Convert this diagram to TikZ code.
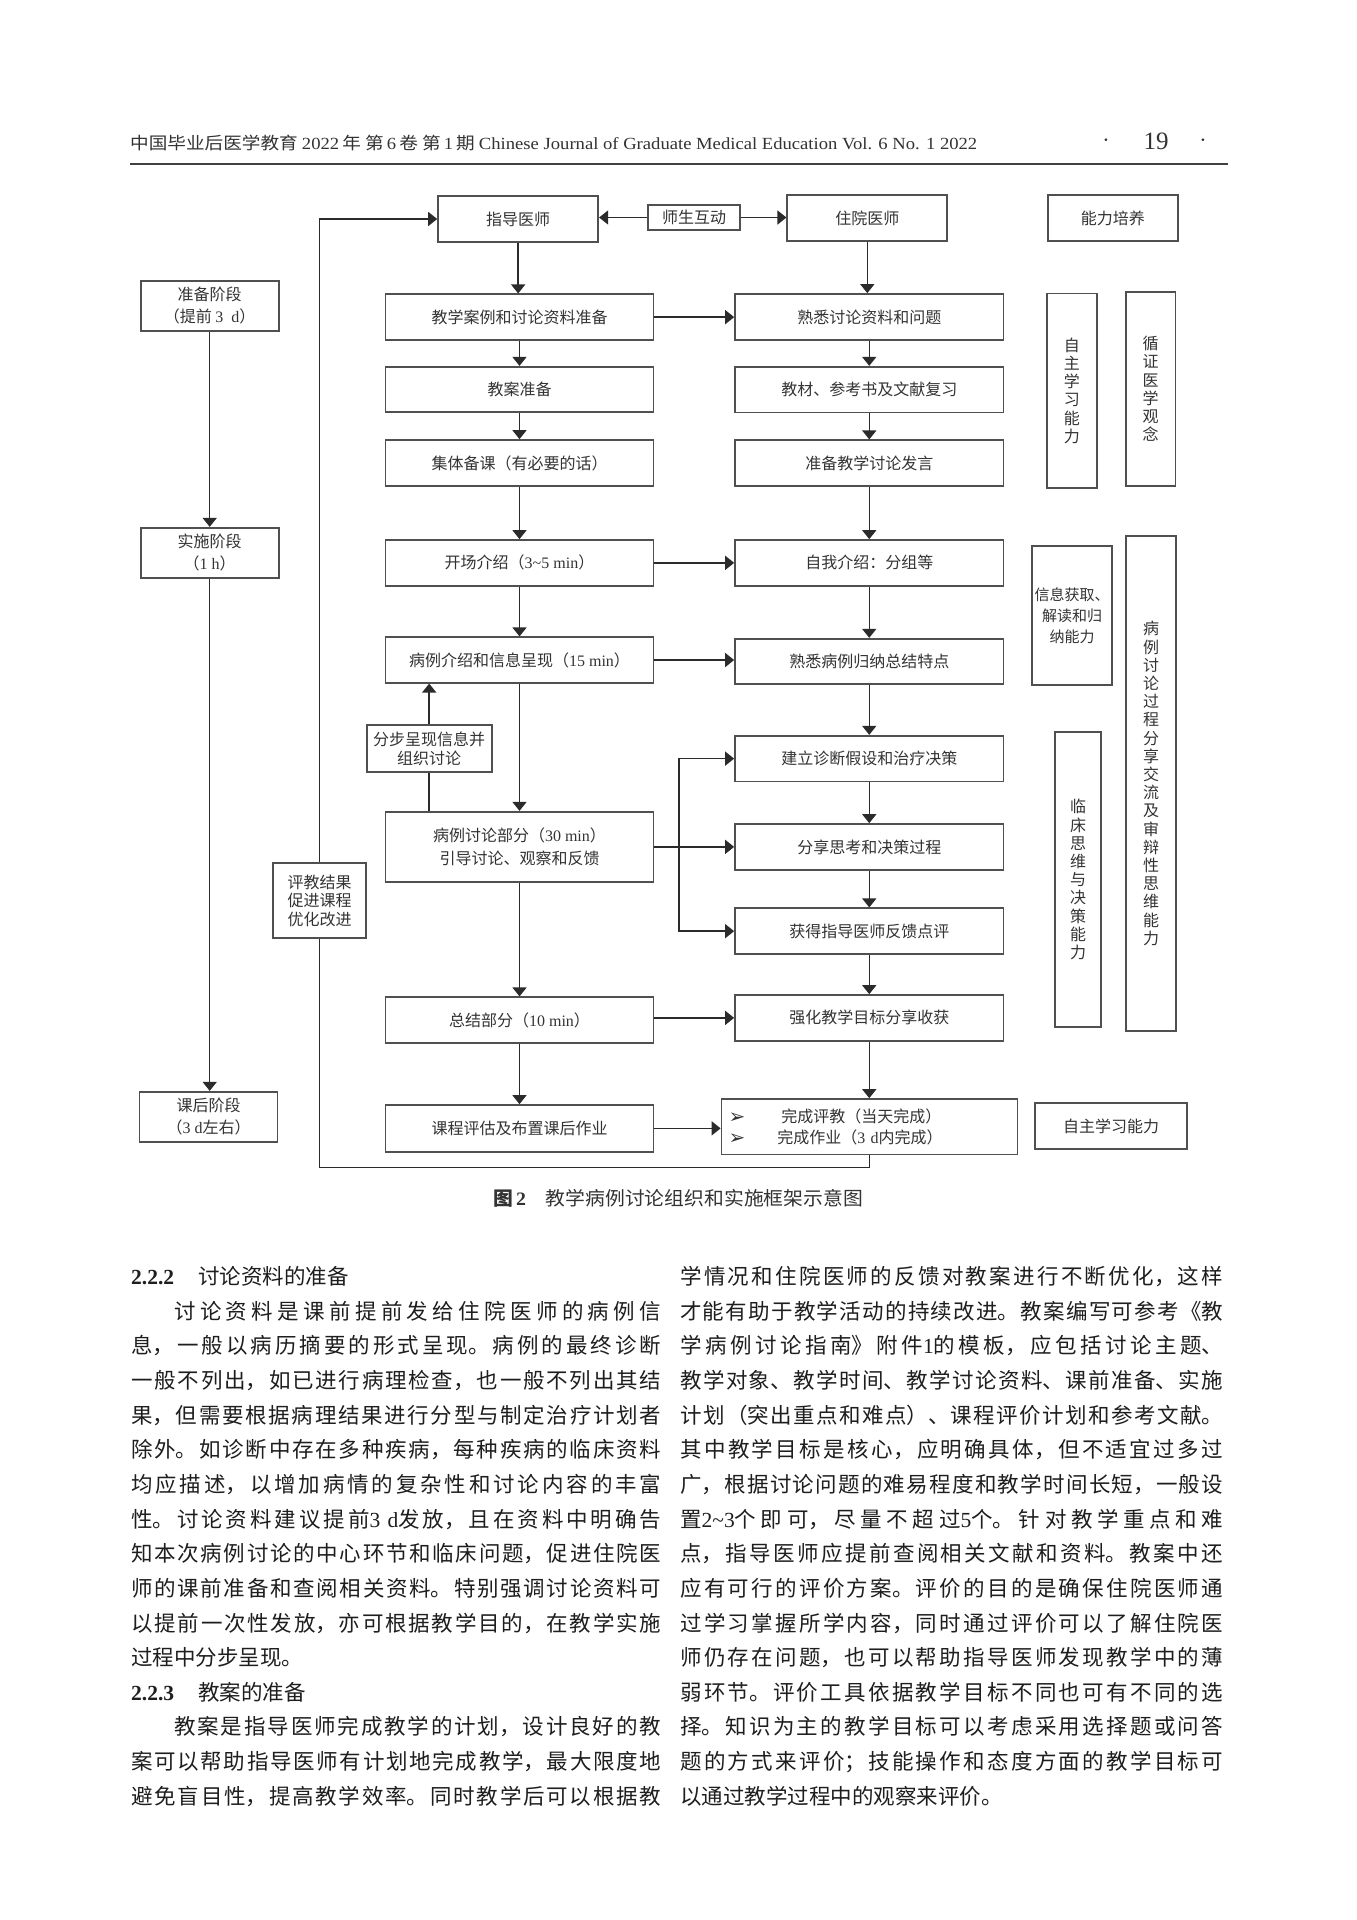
\documentclass[tikz,border=0pt]{standalone}
\usepackage{fontspec}
\usepackage{graphicx}
\setmainfont{Noto Sans CJK SC}
\newfontfamily\lat{Liberation Serif}
\newfontfamily\dv{DejaVu Sans}
\XeTeXlinebreaklocale "zh"
\XeTeXlinebreakskip=0pt plus 4pt
\usetikzlibrary{arrows.meta}
\definecolor{bcol}{HTML}{505050}
\definecolor{lcol}{HTML}{2B2B2B}
\definecolor{tcol}{HTML}{333333}
\definecolor{body}{HTML}{1E1E1E}
\tikzset{
 box/.style={draw=bcol, line width=1.7pt, inner sep=0pt, align=center, text=tcol, font=\fontsize{16}{21.5}\selectfont},
 vbox/.style={box, font=\fontsize{16}{18.2}\selectfont},
 conn/.style={draw=lcol, line width=1.5pt},
 arr/.style={conn, -{Triangle[width=14pt,length=9pt]}},
}
\newcommand{\mkbox}[7][]{\node[box,#1,minimum width={#5-#3},minimum height={#6-#4}] (#2) at ({(#3+#5)/2},{(#4+#6)/2}) {#7};}
\newcommand{\bul}{{\dv\fontsize{20}{20}\selectfont\raisebox{-1pt}{➢}}}
\begin{document}
\begin{tikzpicture}[x=1pt,y=-1pt]
\fill[white] (0,0) rectangle (1357,1920);
\useasboundingbox (0,0) rectangle (1357,1920);

% header
\node[anchor=west, inner sep=0pt, text=tcol] (hdr) at (130,143) {\resizebox{847pt}{\height}{\fontsize{17}{17}\selectfont 中国毕业后医学教育\ {\lat 2022}\,年\ 第\,{\lat 6}\,卷\ 第\,{\lat 1}\,期\ {\lat Chinese Journal of Graduate Medical Education Vol. 6 No. 1 2022}}};
\node[inner sep=0pt, text=tcol] (dotL) at (1106,143) {\lat\fontsize{22}{22}\selectfont ·};
\node[inner sep=0pt, text=tcol] (pgno) at (1156,141) {\lat\fontsize{25}{25}\selectfont 19};
\node[inner sep=0pt, text=tcol] (dotR) at (1203,143) {\lat\fontsize{22}{22}\selectfont ·};
\draw[line width=1.2pt, black!75] (130,164) -- (1228,164);

% phase column
\mkbox{P1}{140.7}{280.7}{278.7}{330.7}{准备阶段\\（提前 {\lat 3\ \ d}）}
\mkbox{P2}{140.7}{527.7}{278.7}{577.7}{实施阶段\\（{\lat 1 h}）}
\mkbox{P3}{139.5}{1091.7}{277.5}{1141.7}{课后阶段\\（{\lat 3 d}左右）}
\draw[arr] (P1.south) -- (P1.south |- P2.north);
\draw[arr] (P2.south) -- (P2.south |- P3.north);

% teacher column
\mkbox{T0}{438}{196}{598.3}{242}{指导医师}
\mkbox{T1}{385.5}{294.3}{653.5}{340}{教学案例和讨论资料准备}
\mkbox{T2}{385.5}{366.7}{653.5}{412.3}{教案准备}
\mkbox{T3}{385.5}{440}{653.5}{486}{集体备课（有必要的话）}
\mkbox{T4}{385.5}{540}{653.5}{585.7}{开场介绍（{\lat 3\textasciitilde 5 min}）}
\mkbox{T5}{385.5}{637.3}{653.5}{682.7}{病例介绍和信息呈现（{\lat 15 min}）}
\mkbox[font=\fontsize{16}{19}\selectfont]{S}{366.7}{725}{491.7}{771.7}{分步呈现信息并\\组织讨论}
\mkbox[font=\fontsize{16}{23}\selectfont]{T6}{385.5}{811.7}{653.5}{882}{病例讨论部分（{\lat 30 min}）\\引导讨论、观察和反馈}
\mkbox{T7}{385.5}{997.3}{653.5}{1043.3}{总结部分（{\lat 10 min}）}
\mkbox{T8}{385.5}{1105}{653.5}{1151.7}{课程评估及布置课后作业}
\mkbox[font=\fontsize{16}{18.5}\selectfont]{F}{273.3}{863.3}{365.7}{938.3}{评教结果\\促进课程\\优化改进}

% interaction
\mkbox{K}{647.7}{205}{740.3}{230}{师生互动}

% resident column
\mkbox{R0}{787.3}{195}{947.3}{241}{住院医师}
\mkbox{R1}{735}{294}{1003.5}{340}{熟悉讨论资料和问题}
\mkbox{R2}{735}{366.7}{1003.5}{412.5}{教材、参考书及文献复习}
\mkbox{R3}{735}{440.3}{1003.5}{486.3}{准备教学讨论发言}
\mkbox{R4}{735}{540}{1003.5}{585.7}{自我介绍：分组等}
\mkbox{R5}{735}{638.7}{1003.5}{683.7}{熟悉病例归纳总结特点}
\mkbox{R6}{735}{735.7}{1003.5}{781.5}{建立诊断假设和治疗决策}
\mkbox{R7}{735}{824}{1003.5}{870}{分享思考和决策过程}
\mkbox{R8}{735}{908.3}{1003.5}{954}{获得指导医师反馈点评}
\mkbox{R9}{735}{995}{1003.5}{1040.7}{强化教学目标分享收获}
\node[box, minimum width=296, minimum height=55.3, text width=282pt, align=left, font=\fontsize{16}{21}\selectfont] (R10) at (869.5,1126.7) {\bul\hspace{36pt}完成评教（当天完成）\\\bul\hspace{32pt}完成作业（{\lat 3 d}内完成）};

% abilities
\mkbox{A0}{1047.7}{195.3}{1178}{241.3}{能力培养}
\mkbox[vbox]{A1}{1047}{293.5}{1096.7}{488}{自\\主\\学\\习\\能\\力}
\mkbox[vbox]{A2}{1125.7}{291.7}{1175.5}{486}{循\\证\\医\\学\\观\\念}
\mkbox[font=\fontsize{15}{21}\selectfont]{A3}{1031.7}{546}{1112.3}{685}{信息获取、\\解读和归\\纳能力}
\mkbox[vbox]{A4}{1126.3}{536}{1176}{1031}{病\\例\\讨\\论\\过\\程\\分\\享\\交\\流\\及\\审\\辩\\性\\思\\维\\能\\力}
\mkbox[vbox]{A5}{1055.3}{732.3}{1101}{1027}{临\\床\\思\\维\\与\\决\\策\\能\\力}
\mkbox{A6}{1035}{1103.3}{1187}{1149.3}{自主学习能力}

% connectors teacher column
\draw[arr] (T0.south) -- (T0.south |- T1.north);
\draw[arr] (T1.south) -- (T1.south |- T2.north);
\draw[arr] (T2.south) -- (T2.south |- T3.north);
\draw[arr] (T3.south) -- (T3.south |- T4.north);
\draw[arr] (T4.south) -- (T4.south |- T5.north);
\draw[arr] (T5.south) -- (T5.south |- T6.north);
\draw[conn] (S.south) -- (S.south |- T6.north);
\draw[arr] (S.north) -- (S.north |- T5.south);
\draw[arr] (T6.south) -- (T6.south |- T7.north);
\draw[arr] (T7.south) -- (T7.south |- T8.north);

% connectors resident column
\draw[arr] (R0.south) -- (R0.south |- R1.north);
\draw[arr] (R1.south) -- (R1.south |- R2.north);
\draw[arr] (R2.south) -- (R2.south |- R3.north);
\draw[arr] (R3.south) -- (R3.south |- R4.north);
\draw[arr] (R4.south) -- (R4.south |- R5.north);
\draw[arr] (R5.south) -- (R5.south |- R6.north);
\draw[arr] (R6.south) -- (R6.south |- R7.north);
\draw[arr] (R7.south) -- (R7.south |- R8.north);
\draw[arr] (R8.south) -- (R8.south |- R9.north);
\draw[arr] (R9.south) -- (R9.south |- R10.north);

% horizontal connectors
\draw[arr] (K.west) -- (K.west -| T0.east);
\draw[arr] (K.east) -- (K.east -| R0.west);
\draw[arr] (T1.east) -- (T1.east -| R1.west);
\draw[arr] (T4.east) -- (T4.east -| R4.west);
\draw[arr] (T5.east) -- (T5.east -| R5.west);
\draw[arr] (T6.east) -- (T6.east -| R7.west);
\coordinate (J) at (679,846.85);
\draw[arr] (J) |- (R6.west);
\draw[arr] (J) |- (R8.west);
\draw[arr] (R9.west -| T7.east) -- (R9.west);
\draw[arr] (T8.east) -- (T8.east -| R10.west);

% feedback loop
\coordinate (L1) at (319.5,1167.3);
\draw[conn] (R10.south) |- (L1) -- (F.south);
\draw[arr] (F.north) |- (T0.west);

% caption
\node[inner sep=0pt, text=tcol] (cap) at (678,1198) {\resizebox{370pt}{\height}{\fontsize{19}{19}\selectfont{\bfseries 图\,{\lat 2}}\hspace{1em}教学病例讨论组织和实施框架示意图}};

% body text
\node[anchor=base west, inner sep=0pt, text=body] (colL) at (131,1284.5) {\parbox[t]{530pt}{\fontsize{21.5}{34.65}\selectfont\parindent=0pt\parskip=0pt\tolerance=10000\hbadness=10000
{\lat\bfseries 2.2.2}\hspace{24pt}讨论资料的准备\par
\hspace*{43pt}讨论资料是课前提前发给住院医师的病例信\linebreak
息，一般以病历摘要的形式呈现。病例的最终诊断\linebreak
一般不列出，如已进行病理检查，也一般不列出其结\linebreak
果，但需要根据病理结果进行分型与制定治疗计划者\linebreak
除外。如诊断中存在多种疾病，每种疾病的临床资料\linebreak
均应描述，以增加病情的复杂性和讨论内容的丰富\linebreak
性。讨论资料建议提前{\lat 3 d}发放，且在资料中明确告\linebreak
知本次病例讨论的中心环节和临床问题，促进住院医\linebreak
师的课前准备和查阅相关资料。特别强调讨论资料可\linebreak
以提前一次性发放，亦可根据教学目的，在教学实施\linebreak
过程中分步呈现。\par
{\lat\bfseries 2.2.3}\hspace{24pt}教案的准备\par
{\parfillskip=0pt \hspace*{43pt}教案是指导医师完成教学的计划，设计良好的教\linebreak
案可以帮助指导医师有计划地完成教学，最大限度地\linebreak
避免盲目性，提高教学效率。同时教学后可以根据教\par}}};

\node[anchor=base west, inner sep=0pt, text=body] (colR) at (680,1284.5) {\parbox[t]{543pt}{\fontsize{21.5}{34.65}\selectfont\parindent=0pt\parskip=0pt\tolerance=10000\hbadness=10000
学情况和住院医师的反馈对教案进行不断优化，这样\linebreak
才能有助于教学活动的持续改进。教案编写可参考《教\linebreak
学病例讨论指南》附件{\lat 1}的模板，应包括讨论主题、\linebreak
教学对象、教学时间、教学讨论资料、课前准备、实施\linebreak
计划（突出重点和难点）、课程评价计划和参考文献。\linebreak
其中教学目标是核心，应明确具体，但不适宜过多过\linebreak
广，根据讨论问题的难易程度和教学时间长短，一般设\linebreak
置{\lat 2\textasciitilde 3}个即可，尽量不超过{\lat 5}个。针对教学重点和难\linebreak
点，指导医师应提前查阅相关文献和资料。教案中还\linebreak
应有可行的评价方案。评价的目的是确保住院医师通\linebreak
过学习掌握所学内容，同时通过评价可以了解住院医\linebreak
师仍存在问题，也可以帮助指导医师发现教学中的薄\linebreak
弱环节。评价工具依据教学目标不同也可有不同的选\linebreak
择。知识为主的教学目标可以考虑采用选择题或问答\linebreak
题的方式来评价；技能操作和态度方面的教学目标可\linebreak
以通过教学过程中的观察来评价。\par}};
\end{tikzpicture}
\end{document}
